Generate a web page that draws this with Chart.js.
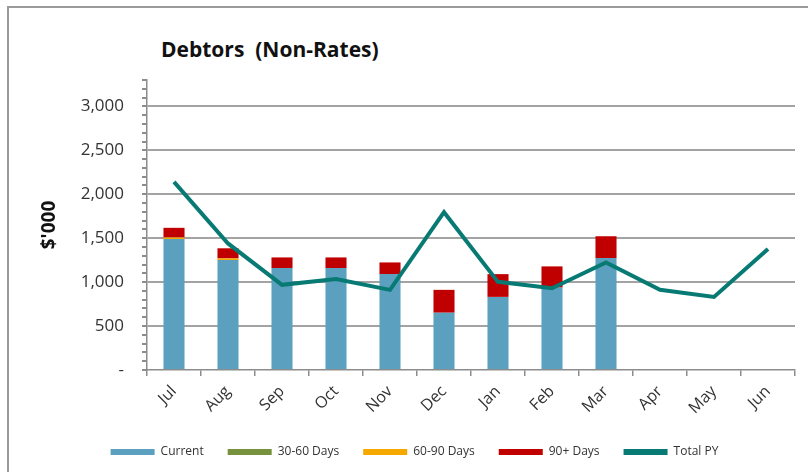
<!DOCTYPE html>
<html>
<head>
<meta charset="utf-8">
<script src="https://cdn.jsdelivr.net/npm/chart.js@4.4.0/dist/chart.umd.min.js"></script>
<style>
  body { margin: 0; background: #fff; overflow: hidden; }
  #wrap { position: relative; width: 808px; height: 472px; }
  #frame { position: absolute; left: 7px; top: 6px; width: 840px; height: 500px; border: 2px solid #9a9a9a; box-sizing: border-box; }
  #title { position: absolute; left: 161px; top: 35px; font: bold 21px "Open Sans", sans-serif; line-height: 28px; color: #111; white-space: pre; }
  #box { position: absolute; left: 0; top: 0; width: 808px; height: 472px; }
</style>
</head>
<body>
<div id="wrap">
  <div id="frame"></div>
  <div id="title">Debtors  (Non-Rates)</div>
  <div id="box"><canvas id="debtors"></canvas></div>
</div>
<script>
const months = ["Jul", "Aug", "Sep", "Oct", "Nov", "Dec", "Jan", "Feb", "Mar", "Apr", "May", "Jun"];
const current = [1490, 1252, 1160, 1160, 1091, 652, 832, 938, 1274, null, null, null];
const days30to60 = [0, 0, 0, 0, 0, 0, 0, 0, 0, null, null, null];
const days60to90 = [18, 18, 0, 0, 0, 0, 0, 0, 0, null, null, null];
const days90plus = [110, 115, 121, 121, 133, 260, 259, 241, 248, null, null, null];
const totalPY = [2140, 1440, 969, 1034, 912, 1796, 1003, 931, 1224, 912, 832, 1377];

const gridGray = '#a3a3a3';
const axisGray = '#8c8c8c';
const textCol = '#333';
const fontName = '"Open Sans"';

const ctx = document.getElementById("debtors");
const chart = new Chart(ctx, {
  type: "bar",
  data: {
    labels: months,
    datasets: [
      { label: "Current", data: current, backgroundColor: '#5ba0bf', stack: 'debt', order: 1 },
      { label: "30-60 Days", data: days30to60, backgroundColor: '#76923c', stack: 'debt', order: 1 },
      { label: "60-90 Days", data: days60to90, backgroundColor: '#f5a800', stack: 'debt', order: 1 },
      { label: "90+ Days", data: days90plus, backgroundColor: '#c00000', stack: 'debt', order: 1 },
      {
        type: "line", label: "Total PY", data: totalPY, stack: 'py', order: 0,
        borderColor: '#087a74', backgroundColor: '#087a74',
        borderWidth: 4, pointRadius: 0, tension: 0
      }
    ]
  },
  options: {
    responsive: true,
    maintainAspectRatio: false,
    animation: false,
    layout: { padding: { left: 34, top: 80, right: 13, bottom: 4 } },
    datasets: { bar: { barPercentage: 0.39, categoryPercentage: 1 } },
    scales: {
      x: {
        stacked: true,
        border: { color: axisGray, width: 1.5 },
        grid: { drawOnChartArea: false, tickLength: 6, tickColor: axisGray, lineWidth: 1.5 },
        ticks: { color: textCol, font: { family: fontName, size: 16 }, minRotation: 45, maxRotation: 45, padding: 6 },
        afterFit: s => { s.height = 52; }
      },
      y: {
        stacked: true,
        min: 0,
        max: 3300,
        border: { color: axisGray, width: 1.5 },
        grid: {
          color: c => (c.tick && c.tick.value > 0 && c.tick.value % 500 === 0 && c.tick.value < 3300) ? gridGray : 'rgba(0,0,0,0)',
          lineWidth: 2,
          tickColor: axisGray,
          tickLength: 5
        },
        ticks: {
          stepSize: 100,
          autoSkip: false,
          color: textCol,
          font: { family: fontName, size: 17 },
          padding: 18,
          callback: v => v % 500 !== 0 || v > 3000 ? '' : (v === 0 ? '-' : v.toLocaleString('en-US'))
        },
        title: { display: true, text: "$'000", color: '#111', font: { family: fontName, size: 19, weight: 'bold' } },
        afterFit: s => { s.width = 113; }
      }
    },
    plugins: {
      legend: {
        position: 'bottom',
        labels: {
          boxWidth: 44,
          boxHeight: 6,
          padding: 24,
          color: textCol,
          font: { family: fontName, size: 12 },
          sort: (a, b) => a.datasetIndex - b.datasetIndex,
          generateLabels: c => Chart.defaults.plugins.legend.labels.generateLabels(c).map(l => { l.lineWidth = 0; return l; })
        }
      },
      tooltip: { enabled: false }
    }
  }
});
</script>
</body>
</html>
